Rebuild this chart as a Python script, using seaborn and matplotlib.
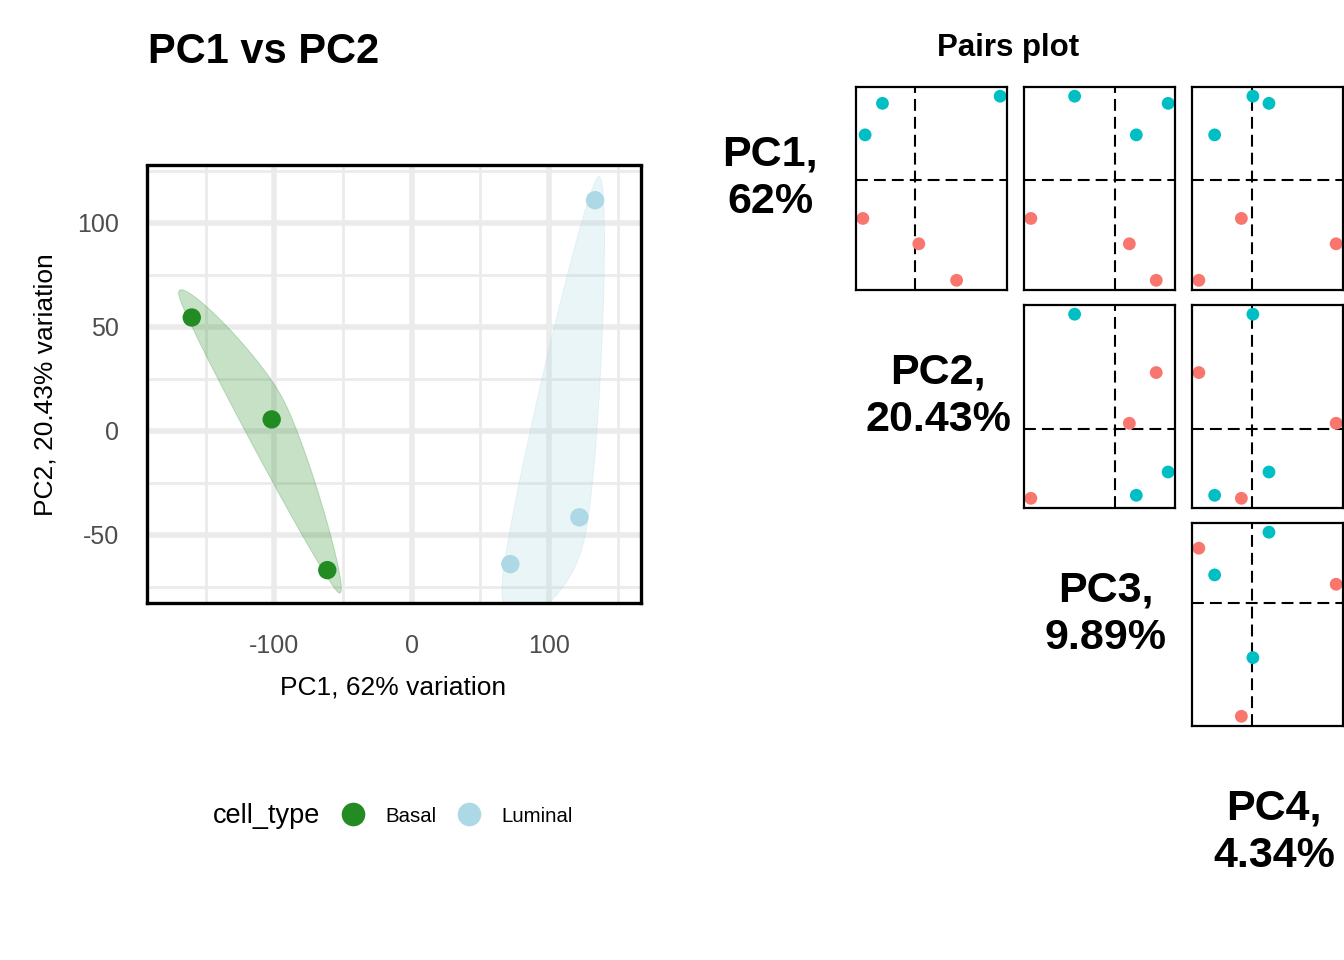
import numpy as np
import pandas as pd
import matplotlib
matplotlib.use("Agg")
import matplotlib.pyplot as plt
from matplotlib import font_manager
from matplotlib.lines import Line2D
import seaborn as sns

# PCA scores (3 basal, 3 luminal samples)
cell_type = ["Basal", "Basal", "Basal", "Luminal", "Luminal", "Luminal"]
pc1 = [-160.2, -102.0, -61.5, 133.5, 122.1, 71.8]
pc2 = [54.5, 5.5, -67.0, 110.9, -41.6, -64.1]
pc3 = [38.7, 13.2, -80.2, -38.7, 50.0, 19.8]
pc4 = [-36.5, 57.5, -7.4, 0.5, 11.5, -25.7]
pc_names = ["PC1", "PC2", "PC3", "PC4"]
pc_var = ["62%", "20.43%", "9.89%", "4.34%"]

biplot_colors = {"Basal": "forestgreen", "Luminal": "lightblue"}
pairs_colors = {"Basal": "#F8766D", "Luminal": "#00BFC4"}

df = pd.DataFrame({"PC1": pc1, "PC2": pc2, "PC3": pc3, "PC4": pc4,
                   "cell_type": cell_type})

sns.set_style("white")
plt.rcParams["font.family"] = ["Liberation Sans", "DejaVu Sans"]
plt.rcParams["axes.unicode_minus"] = False
plt.rcParams["text.color"] = "black"
plt.rcParams["axes.labelcolor"] = "black"

installed = {f.name for f in font_manager.fontManager.ttflist}
if "Liberation Sans Narrow" in installed:
    diag_family, diag_size = ["Liberation Sans Narrow", "DejaVu Sans"], 34
else:
    diag_family, diag_size = ["Liberation Sans", "DejaVu Sans"], 31

W, H = 1344, 960
fig = plt.figure(figsize=(W / 100, H / 100), dpi=100)


def px_box(x0, y0, x1, y1):
    return [x0 / W, 1 - y1 / H, (x1 - x0) / W, (y1 - y0) / H]


def hull(pts):
    pts = sorted(map(tuple, pts))

    def cross(o, a, b):
        return (a[0] - o[0]) * (b[1] - o[1]) - (a[1] - o[1]) * (b[0] - o[0])

    lower, upper = [], []
    for p in pts:
        while len(lower) >= 2 and cross(lower[-2], lower[-1], p) <= 0:
            lower.pop()
        lower.append(p)
    for p in reversed(pts):
        while len(upper) >= 2 and cross(upper[-2], upper[-1], p) <= 0:
            upper.pop()
        upper.append(p)
    return np.array(lower[:-1] + upper[:-1])


def encircle(ax, x, y, expand_px=24, steps=60):
    # expanded hull through a closed smooth spline, worked out in pixels
    disp = ax.transData.transform(np.column_stack([x, y]))
    centre = disp.mean(axis=0)
    h = hull(disp)
    d = h - centre
    h = h + expand_px * d / np.linalg.norm(d, axis=1, keepdims=True)
    n = len(h)
    t = np.linspace(0, 1, steps, endpoint=False)[:, None]
    out = []
    for i in range(n):
        p0, p1, p2, p3 = h[i - 1], h[i], h[(i + 1) % n], h[(i + 2) % n]
        out.append(0.5 * (2 * p1 + (p2 - p0) * t
                          + (2 * p0 - 5 * p1 + 4 * p2 - p3) * t ** 2
                          + (3 * p1 - p0 - 3 * p2 + p3) * t ** 3))
    return ax.transData.inverted().transform(np.vstack(out))


# ---- left: PC1 vs PC2 biplot ----
ax = fig.add_axes(px_box(147, 165.5, 640.5, 603))
ax.set_axisbelow(True)
ax.set_xticks([-100, 0, 100])
ax.set_xticks([-150, -50, 50, 150], minor=True)
ax.set_yticks([-50, 0, 50, 100])
ax.set_yticks([-75, -25, 25, 75, 125], minor=True)
ax.grid(which="major", color="#EBEBEB", lw=4)
ax.grid(which="minor", color="#EBEBEB", lw=2)
ax.set_xlim(-192.8, 166.6)
ax.set_ylim(-82.8, 127.6)

for grp, sub in df.groupby("cell_type"):
    shape = encircle(ax, sub["PC1"], sub["PC2"])
    ax.fill(shape[:, 0], shape[:, 1], facecolor=biplot_colors[grp],
            alpha=0.25, edgecolor=biplot_colors[grp], lw=0.7, zorder=2)

sns.scatterplot(data=df, x="PC1", y="PC2", hue="cell_type",
                palette=biplot_colors, s=175, linewidth=0, legend=False,
                ax=ax, zorder=3)
ax.set_xlim(-192.8, 166.6)
ax.set_ylim(-82.8, 127.6)
ax.set_xlabel("")
ax.set_ylabel("")
for sp in ax.spines.values():
    sp.set_color("black")
    sp.set_linewidth(2.4)
    sp.set_zorder(5)
ax.tick_params(which="major", length=11, width=4.5, color="#333333",
               labelsize=18, labelcolor="#4D4D4D", direction="out")
ax.tick_params(axis="x", pad=11)
ax.tick_params(axis="y", pad=9)
ax.tick_params(which="minor", length=0)

fig.text(148 / W, 1 - 62.7 / H, "PC1 vs PC2", fontsize=30, fontweight="bold",
         ha="left", va="baseline")
fig.text(393.5 / W, 1 - 695 / H, "PC1, 62% variation", fontsize=19,
         ha="center", va="baseline")
fig.text(53 / W, 1 - 385 / H, "PC2, 20.43% variation", fontsize=19,
         rotation=90, rotation_mode="anchor", ha="center", va="baseline")

# legend
fig.text(320 / W, 1 - 816 / H, "cell_type", fontsize=19.5, ha="right",
         va="center")
handles = [Line2D([], [], marker="o", linestyle="", markersize=17,
                  markeredgewidth=0, color=biplot_colors[k])
           for k in ["Basal", "Luminal"]]
fig.legend(handles, ["Basal", "Luminal"], loc="center left",
           bbox_to_anchor=(341 / W, 1 - 816 / H), ncol=2, frameon=False,
           fontsize=14.7, handlelength=1.2, handletextpad=0.95,
           columnspacing=1.03, borderpad=0, borderaxespad=0)

# ---- right: pairs plot ----
fig.text(1008 / W, 1 - 56 / H, "Pairs plot", fontsize=22.5,
         fontweight="bold", ha="center", va="baseline")


def padded(v):
    lo, hi = min(v), max(v)
    pad = 0.05 * (hi - lo)
    return lo - pad, hi + pad


for r in range(4):
    for c in range(r, 4):
        x0 = 688 + 168 * c
        y0 = 87 + 218 * r
        pax = fig.add_axes(px_box(x0, y0, x0 + 151, y0 + 202.5))
        if c == r:
            pax.axis("off")
            pax.text(0.543, 0.55, f"{pc_names[r]},\n{pc_var[r]}",
                     transform=pax.transAxes, ha="center", va="center",
                     multialignment="center", fontsize=diag_size,
                     fontweight="bold", family=diag_family, linespacing=1.26)
            continue
        xcol, ycol = pc_names[c], pc_names[r]
        pax.axhline(0, color="black", lw=1.5, dashes=(5.7, 2.9), zorder=1)
        pax.axvline(0, color="black", lw=1.5, dashes=(5.7, 2.9), zorder=1)
        sns.scatterplot(data=df, x=xcol, y=ycol, hue="cell_type",
                        palette=pairs_colors, s=85, linewidth=0,
                        legend=False, ax=pax, zorder=3)
        pax.set_xlim(*padded(df[xcol]))
        pax.set_ylim(*padded(df[ycol]))
        pax.set_xticks([])
        pax.set_yticks([])
        pax.set_xlabel("")
        pax.set_ylabel("")
        for sp in pax.spines.values():
            sp.set_color("black")
            sp.set_linewidth(1.6)
            sp.set_zorder(4)

fig.savefig("out.png", dpi=100, facecolor="white")
